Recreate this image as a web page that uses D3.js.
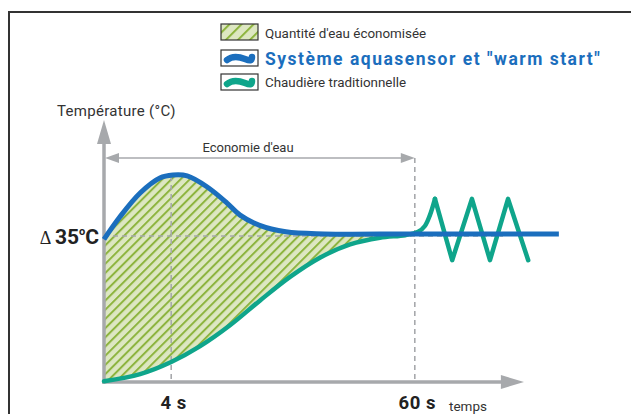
<!DOCTYPE html>
<html><head><meta charset="utf-8">
<script src="https://cdn.jsdelivr.net/npm/d3@7"></script>
<style>
html,body{margin:0;padding:0;background:#fff;}
svg{display:block;font-family:Roboto, "Noto Sans", sans-serif;}
</style></head>
<body><svg id="c" width="631" height="414"></svg>
<script>
// ---- data (x in arbitrary time units, y in temperature units, 35 = baseline) ----
const legendLabels = ["Quantité d'eau économisée", "Système aquasensor et \"warm start\"", "Chaudière traditionnelle"];
const tickLabels = ["4 s", "60 s"];
const tickUnits = [16, 74];
const baselineTemp = 35;
const blueX = [0, 3.8, 8.6, 13.3, 16.4, 19.8, 24.5, 29.3, 32.4, 36.9, 43.3, 52.4, 73.8, 108.3];
const blueY = [34.2, 39.6, 45.3, 48.9, 49.6, 49.4, 46.8, 42.9, 40.0, 37.6, 36.0, 35.5, 35.5, 35.5];
const greenSmoothX = [0, 8.6, 16, 22.9, 30, 37.1, 44.3, 51.4, 58.6, 65.7, 71.7, 74.8, 76.4, 77.6, 78.8];
const greenSmoothY = [0.2, 1.9, 4.8, 8.6, 13.6, 19.5, 25.2, 29.8, 33.0, 34.6, 35.2, 36.0, 37.4, 40.0, 43.9];
const greenZigX = [78.8, 82.9, 87.6, 91.9, 96.2, 101];
const greenZigY = [43.9, 29.2, 43.9, 29.2, 43.9, 29.2];

const svg = d3.select("#c");
const x = d3.scaleLinear().domain([0, 100]).range([104, 524]);
const y = d3.scaleLinear().domain([0, 35]).range([382, 236]);

const AX = "#a7a9ac", BLUE = "#1b6ebd", TEAL = "#0fa58b";
const defs = svg.append("defs");
function hatch(id, sp) {
  const p = defs.append("pattern").attr("id", id).attr("patternUnits", "userSpaceOnUse")
    .attr("width", sp).attr("height", sp).attr("patternTransform", "rotate(45)");
  p.append("rect").attr("width", sp).attr("height", sp).attr("fill", "#dde7c2");
  p.append("rect").attr("x", 0).attr("width", 2).attr("height", sp).attr("fill", "#8db43e");
}
hatch("h1", 6.5); hatch("h2", 8.5);

// frame
svg.append("path").attr("d", "M9,414 V12 H631").attr("fill", "none").attr("stroke", "#333").attr("stroke-width", 2);

// legend
const lg = svg.append("g");
const rowsY = [24, 50, 74];
lg.append("rect").attr("x", 221).attr("y", rowsY[0]).attr("width", 37).attr("height", 16)
  .attr("fill", "url(#h2)").attr("stroke", "#333").attr("stroke-width", 1.2);
[1, 2].forEach(i => {
  const yy = rowsY[i];
  lg.append("rect").attr("x", 221).attr("y", yy).attr("width", 37).attr("height", 16)
    .attr("fill", "#fff").attr("stroke", "#333").attr("stroke-width", 1.2);
  lg.append("path").attr("d", `M227,${yy+10} C233,${yy+5} 240,${yy+7} 245,${yy+9} S252,${yy+11} 252,${yy+7}`)
    .attr("fill", "none").attr("stroke", i === 1 ? BLUE : TEAL).attr("stroke-width", 6.5).attr("stroke-linecap", "round");
});
lg.append("text").attr("x", 265).attr("y", 37.5).attr("font-size", 13.4).attr("fill", "#333").text(legendLabels[0]);
lg.append("text").attr("x", 265).attr("y", 64.5).attr("font-size", 17.5).attr("font-weight", "bold")
  .attr("letter-spacing", 1.5).attr("fill", BLUE).text(legendLabels[1]);
lg.append("text").attr("x", 265).attr("y", 87).attr("font-size", 13.4).attr("fill", "#333").text(legendLabels[2]);

// curves
const bluePts = blueX.map((d, i) => [d, blueY[i]]);
const greenPts = greenSmoothX.map((d, i) => [d, greenSmoothY[i]]);
const zigPts = greenZigX.map((d, i) => [d, greenZigY[i]]);
const line = d3.line().x(d => x(d[0])).y(d => y(d[1])).curve(d3.curveCatmullRom.alpha(0.5));
const lineLin = d3.line().x(d => x(d[0])).y(d => y(d[1]));

// hatched area: below blue, then white under green
const area = d3.area().x(d => x(d[0])).y0(y(0)).y1(d => y(d[1])).curve(d3.curveCatmullRom.alpha(0.5));
svg.append("path").attr("d", area(bluePts.filter(d => d[0] <= 73.8))).attr("fill", "url(#h1)");
svg.append("path").attr("d", area(greenPts.filter(d => d[0] <= 74.8))).attr("fill", "#fff");

// dashed guides
const dash = "5,4";
svg.append("line").attr("x1", x(0)).attr("x2", x(95)).attr("y1", y(baselineTemp)).attr("y2", y(baselineTemp))
  .attr("stroke", AX).attr("stroke-width", 1.6).attr("stroke-dasharray", dash);
svg.append("line").attr("x1", x(tickUnits[0])).attr("x2", x(tickUnits[0])).attr("y1", y(49.4)).attr("y2", y(0))
  .attr("stroke", AX).attr("stroke-width", 1.6).attr("stroke-dasharray", dash);
svg.append("line").attr("x1", x(tickUnits[1])).attr("x2", x(tickUnits[1])).attr("y1", 158).attr("y2", y(0))
  .attr("stroke", AX).attr("stroke-width", 1.6).attr("stroke-dasharray", dash);

// economie arrow
svg.append("line").attr("x1", x(0) + 8).attr("x2", x(tickUnits[1]) - 10).attr("y1", 158).attr("y2", 158)
  .attr("stroke", AX).attr("stroke-width", 1.6);
svg.append("path").attr("d", `M${x(0)+1},158 L${x(0)+15},153 L${x(0)+15},163 Z`).attr("fill", AX);
svg.append("path").attr("d", `M${x(tickUnits[1])},158 L${x(tickUnits[1])-14},153 L${x(tickUnits[1])-14},163 Z`).attr("fill", AX);
svg.append("text").attr("x", 248).attr("y", 151.5).attr("text-anchor", "middle").attr("font-size", 13).attr("fill", "#333").text("Economie d'eau");

// axes
svg.append("line").attr("x1", x(0)).attr("x2", x(0)).attr("y1", y(0) + 1.5).attr("y2", 140).attr("stroke", AX).attr("stroke-width", 3.5);
svg.append("path").attr("d", `M${x(0)},120 L${x(0)-7},144 L${x(0)+7},144 Z`).attr("fill", AX);
svg.append("line").attr("x1", x(0) - 2).attr("x2", x(95)).attr("y1", y(0)).attr("y2", y(0)).attr("stroke", AX).attr("stroke-width", 3.5);
svg.append("path").attr("d", `M${x(100)},${y(0)} L${x(94.5)},${y(0)-7} L${x(94.5)},${y(0)+7} Z`).attr("fill", AX);

const xAxis = d3.axisBottom(x).tickValues(tickUnits).tickFormat((d, i) => tickLabels[i]).tickSize(0).tickPadding(14);
const gx = svg.append("g").attr("transform", `translate(0,${y(0)})`).call(xAxis);
gx.select(".domain").remove();
gx.selectAll("text").attr("font-size", 18.5).attr("font-weight", "bold").attr("fill", "#222")
  .attr("letter-spacing", 0.6).attr("font-family", "Roboto, sans-serif").attr("dx", 2);

svg.append("text").attr("x", 449).attr("y", 411).attr("font-size", 13.5).attr("fill", "#333").text("temps");
svg.append("text").attr("x", 57).attr("y", 116).attr("font-size", 15).attr("letter-spacing", 0.3).attr("fill", "#333").text("Température (°C)");

const dl = svg.append("text").attr("x", 99).attr("y", 244).attr("text-anchor", "end").attr("fill", "#222");
dl.append("tspan").attr("font-size", 18).attr("font-family", "Liberation Serif, serif").text("Δ ");
dl.append("tspan").attr("font-size", 21).attr("font-weight", "bold").text("35");
dl.append("tspan").attr("font-size", 11).attr("font-weight", "bold").attr("dy", -9).text("o");
dl.append("tspan").attr("font-size", 21).attr("font-weight", "bold").attr("dy", 9).text("C");

// lines
svg.append("path").attr("d", line(greenPts)).attr("fill", "none").attr("stroke", TEAL).attr("stroke-width", 4.5).attr("stroke-linecap", "round");
svg.append("path").attr("d", lineLin(zigPts)).attr("fill", "none").attr("stroke", TEAL).attr("stroke-width", 4.5)
  .attr("stroke-linejoin", "round").attr("stroke-linecap", "round");
svg.append("path").attr("d", line(bluePts)).attr("fill", "none").attr("stroke", BLUE).attr("stroke-width", 5);
</script></body></html>
